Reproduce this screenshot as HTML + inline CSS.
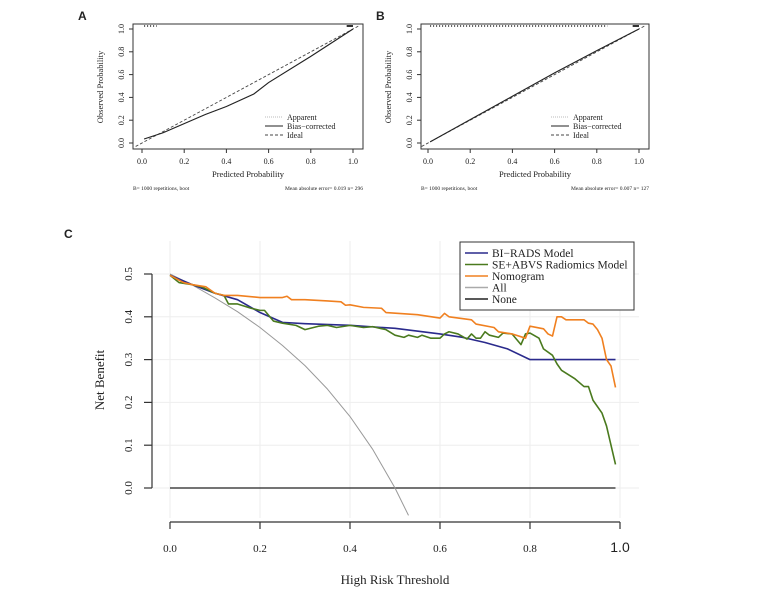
<!DOCTYPE html>
<html><head><meta charset="utf-8"><style>
body{margin:0;background:#fff;}
svg text{font-family:"Liberation Serif",serif;fill:#222;}
svg text.sans{font-family:"Liberation Sans",sans-serif;}
</style></head><body>
<svg id="c" width="762" height="590" xmlns="http://www.w3.org/2000/svg"></svg>
<script>
// Panel A/B calibration data
const calAx=[0.01,0.1,0.2,0.3,0.4,0.53,0.6,0.8,1.0];
const calAy=[0.035,0.09,0.17,0.25,0.32,0.43,0.53,0.76,1.0];
const calBx=[0.01,0.2,0.4,0.6,0.8,1.0];
const calBy=[0.01,0.205,0.41,0.615,0.81,1.0];
const calTicks=["0.0","0.2","0.4","0.6","0.8","1.0"];
// Panel C decision curve data
const dcTicksX=["0.0","0.2","0.4","0.6","0.8","1.0"];
const dcTicksY=["0.0","0.1","0.2","0.3","0.4","0.5"];
const biradsX=[0,0.05,0.1,0.15,0.2,0.25,0.3,0.4,0.5,0.6,0.65,0.7,0.75,0.8,0.99];
const biradsY=[0.497,0.475,0.455,0.44,0.41,0.387,0.384,0.38,0.373,0.36,0.352,0.34,0.325,0.30,0.30];
const radX=[0,0.02,0.05,0.07,0.1,0.12,0.13,0.15,0.18,0.2,0.21,0.23,0.25,0.28,0.3,0.33,0.35,0.37,0.4,0.43,0.45,0.48,0.5,0.52,0.53,0.55,0.56,0.58,0.6,0.61,0.62,0.64,0.66,0.67,0.68,0.69,0.7,0.71,0.73,0.74,0.76,0.78,0.79,0.8,0.82,0.83,0.85,0.86,0.87,0.9,0.92,0.93,0.94,0.96,0.97,0.98,0.99];
const radY=[0.497,0.48,0.475,0.47,0.455,0.45,0.43,0.43,0.42,0.415,0.415,0.39,0.385,0.38,0.37,0.378,0.38,0.375,0.38,0.375,0.377,0.37,0.357,0.352,0.357,0.352,0.357,0.35,0.35,0.36,0.365,0.36,0.348,0.36,0.35,0.35,0.365,0.357,0.352,0.362,0.36,0.335,0.36,0.362,0.35,0.325,0.31,0.29,0.275,0.255,0.237,0.237,0.205,0.175,0.145,0.1,0.055];
const nomoX=[0,0.03,0.05,0.08,0.1,0.12,0.15,0.2,0.25,0.26,0.27,0.3,0.35,0.38,0.39,0.4,0.43,0.47,0.48,0.55,0.6,0.61,0.62,0.67,0.68,0.72,0.73,0.76,0.79,0.8,0.83,0.84,0.85,0.86,0.87,0.88,0.9,0.92,0.93,0.94,0.95,0.96,0.97,0.98,0.99];
const nomoY=[0.497,0.48,0.475,0.47,0.455,0.45,0.45,0.445,0.445,0.448,0.44,0.44,0.437,0.435,0.427,0.428,0.422,0.42,0.41,0.405,0.397,0.408,0.4,0.393,0.383,0.375,0.365,0.36,0.35,0.378,0.372,0.36,0.355,0.40,0.40,0.393,0.393,0.393,0.385,0.383,0.37,0.35,0.30,0.285,0.235];
const allX=[0,0.05,0.1,0.15,0.2,0.25,0.3,0.35,0.4,0.45,0.5,0.53];
const allY=[0.5,0.474,0.444,0.412,0.375,0.333,0.286,0.231,0.167,0.091,0,-0.064];
const noneX=[0,0.99];
const noneY=[0,0];

const svg=document.getElementById('c');
const NS='http://www.w3.org/2000/svg';
function mk(tag,at,txt){const e=document.createElementNS(NS,tag);for(const k in at)e.setAttribute(k,at[k]);if(txt!==undefined)e.textContent=txt;svg.appendChild(e);return e;}

function calPanel(letter,lx,x0,x1,bx0,bx1,xs,ys,note,n,rugEnd){
  const sx=v=>x0+(x1-x0)*v, sy=v=>143-114*v;
  let e=mk('text',{x:lx,y:20,'font-size':12,'font-weight':'bold',class:'sans'},letter);
  
  
  e=mk('rect',{x:bx0,y:24,width:bx1-bx0,height:125,fill:'none',stroke:'#333','stroke-width':1});
  
  
  calTicks.forEach((t,i)=>{const v=i/5;
    mk('line',{x1:sx(v),x2:sx(v),y1:149,y2:153,stroke:'#333'});
    e=mk('text',{x:sx(v),y:164,'font-size':8,'text-anchor':'middle'},t);
    
    
    mk('line',{x1:bx0-4,x2:bx0,y1:sy(v),y2:sy(v),stroke:'#333'});
    e=mk('text',{x:0,y:0,'font-size':8,'text-anchor':'middle',transform:`translate(${bx0-9},${sy(v)}) rotate(-90)`},t);
    
    
  });
  e=mk('text',{x:(bx0+bx1)/2,y:177,'font-size':8.5,'text-anchor':'middle'},'Predicted Probability');
  
  
  e=mk('text',{x:0,y:0,'font-size':8.5,'text-anchor':'middle',transform:`translate(${bx0-30},87) rotate(-90)`},'Observed Probability');
  
  
  e=mk('text',{x:bx0,y:190,'font-size':5.5},'B= 1000 repetitions, boot');
  
  
  e=mk('text',{x:bx1,y:190,'font-size':5.5,'text-anchor':'end'},'Mean absolute error= '+note+' n= '+n);
  
  
  e=mk('line',{x1:sx(-0.03),y1:sy(-0.03),x2:sx(1.03),y2:sy(1.03),stroke:'#444','stroke-dasharray':'3,2','stroke-width':0.9});
  
  
  const pts=xs.map((x,i)=>sx(x)+','+sy(ys[i])).join(' ');
  e=mk('polyline',{points:pts,fill:'none',stroke:'#bbb','stroke-dasharray':'1,1','stroke-width':1});
  
  
  e=mk('polyline',{points:pts,fill:'none',stroke:'#222','stroke-width':1.1});
  
  
  e=mk('line',{x1:sx(0.01),x2:sx(rugEnd),y1:26,y2:26,stroke:'#555','stroke-width':2,'stroke-dasharray':'1,2'});
  
  
  mk('line',{x1:sx(0.97),x2:sx(1),y1:26,y2:26,stroke:'#333','stroke-width':2});
  const lgx=bx1-98;
  [['Apparent','1,1','#bbb'],['Bias−corrected','','#222'],['Ideal','3,2','#444']].forEach((l,i)=>{
    const y=117+i*9;
    mk('line',{x1:lgx,x2:lgx+18,y1:y,y2:y,stroke:l[2],'stroke-dasharray':l[1]});
    e=mk('text',{x:lgx+22,y:y+3,'font-size':8},l[0]);
    
    
  });
}
calPanel('A',78,142,353,133,363,calAx,calAy,'0.019',296,0.07);
calPanel('B',376,428,639,421,649,calBx,calBy,'0.007',127,0.85);

// Panel C
const X=v=>170+450*v, Y=v=>488-428*v;
let e=mk('text',{x:64,y:238,'font-size':12,'font-weight':'bold',class:'sans'},'C');


const g=mk('g',{});


dcTicksX.forEach((t,i)=>{const v=i*0.2;
  mk('line',{x1:X(v),x2:X(v),y1:241,y2:518,stroke:'#eee'});
  mk('line',{x1:X(v),x2:X(v),y1:522,y2:529,stroke:'#333','stroke-width':1.2});
  const last=i===5;
  e=mk('text',{x:X(v),y:552,'font-size':last?14:11,'text-anchor':'middle',class:last?'sans':''},t);
  
  
});
dcTicksY.forEach((t,i)=>{const v=i*0.1;
  mk('line',{x1:152,x2:639,y1:Y(v),y2:Y(v),stroke:'#eee'});
  mk('line',{x1:144,x2:152,y1:Y(v),y2:Y(v),stroke:'#333','stroke-width':1.2});
  e=mk('text',{x:0,y:0,'font-size':11,'text-anchor':'middle',transform:`translate(${132},${Y(v)}) rotate(-90)`},t);
  
  
});
e=mk('line',{x1:X(0),x2:X(1),y1:522,y2:522,stroke:'#333','stroke-width':1.2});


e=mk('line',{x1:152,x2:152,y1:Y(0),y2:Y(0.5),stroke:'#333','stroke-width':1.2});


e=mk('text',{x:X(0.5),y:584,'font-size':13,'text-anchor':'middle'},'High Risk Threshold');


e=mk('text',{x:0,y:0,'font-size':13,'text-anchor':'middle',transform:'translate(104,380) rotate(-90)'},'Net Benefit');


function series(xs,ys,col,w,name){
  const e=mk('polyline',{points:xs.map((x,i)=>X(x)+','+Y(ys[i])).join(' '),fill:'none',stroke:col,'stroke-width':w,'stroke-linejoin':'round'});
  
  
}
series(noneX,noneY,'#222',1.3,'none-line');
series(allX,allY,'#999',1,'all-line');
series(biradsX,biradsY,'#2a2a8c',1.6,'birads-line');
series(radX,radY,'#4a7a1e',1.6,'radiomics-line');
series(nomoX,nomoY,'#f08020',1.6,'nomogram-line');
e=mk('rect',{x:460,y:242,width:174,height:68,fill:'#fff',stroke:'#333','stroke-width':1});


[['BI−RADS Model','#2a2a8c'],['SE+ABVS Radiomics Model','#4a7a1e'],['Nomogram','#f08020'],['All','#aaa'],['None','#222']].forEach((l,i)=>{
  const y=253+i*11.5;
  mk('line',{x1:465,x2:488,y1:y,y2:y,stroke:l[1],'stroke-width':1.5});
  const t=mk('text',{x:492,y:y+4,'font-size':11.5},l[0]);
  
  
});
</script>
</body></html>
